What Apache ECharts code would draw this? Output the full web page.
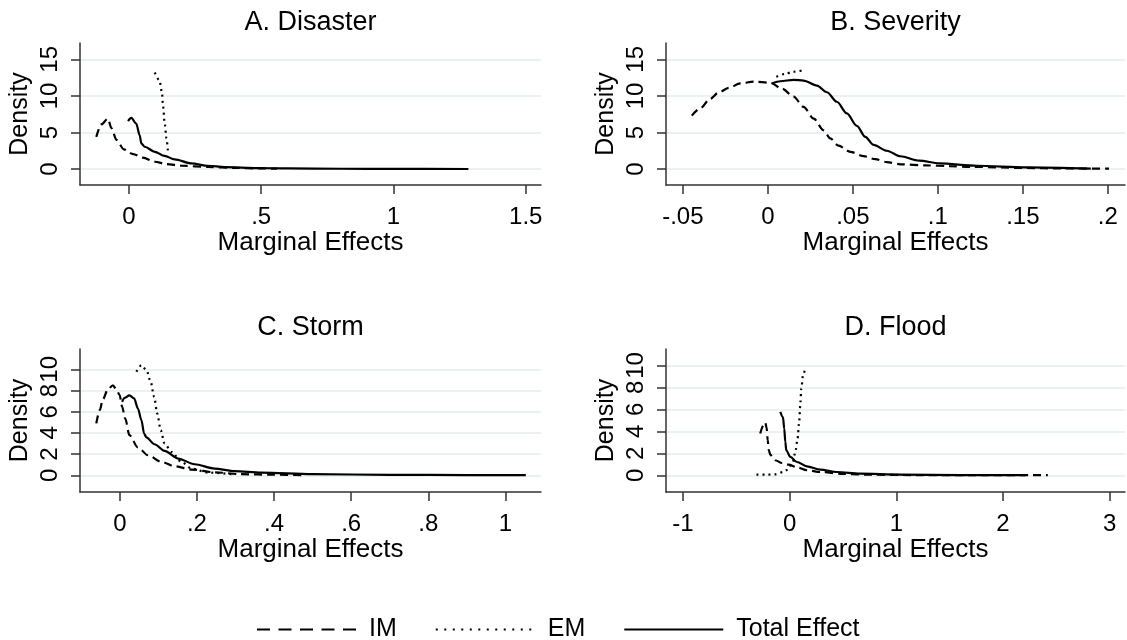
<!DOCTYPE html>
<html>
<head>
<meta charset="utf-8">
<script src="https://cdn.jsdelivr.net/npm/echarts@6/dist/echarts.min.js"></script>
<style>
  html, body { margin: 0; padding: 0; background: #fff; }
  #chart { width: 1127px; height: 640px; }
</style>
</head>
<body>
<div id="chart"></div>
<script>
// panel titles and legend names
const panelTitles = ['A. Disaster', 'B. Severity', 'C. Storm', 'D. Flood'];
const seriesNames = ['IM', 'EM', 'Total Effect'];

// tick values per panel (labels drawn Stata-style: .5, -.05)
const xTicksA = [0, 0.5, 1, 1.5];
const xTicksB = [-0.05, 0, 0.05, 0.1, 0.15, 0.2];
const xTicksC = [0, 0.2, 0.4, 0.6, 0.8, 1];
const xTicksD = [-1, 0, 1, 2, 3];
const yTicksAB = [0, 5, 10, 15];
const yTicksCD = [0, 2, 4, 6, 8, 10];

// A. Disaster  [marginal effect, density]
const disasterIM = [[-0.123, 4.4], [-0.104, 6.1], [-0.079, 6.9], [-0.066, 5.6], [-0.047, 4.0], [-0.019, 2.7],
  [0.016, 2.05], [0.053, 1.55], [0.098, 1.0], [0.142, 0.68], [0.199, 0.45], [0.3, 0.28], [0.4, 0.15], [0.5, 0.08], [0.56, 0.05]];
const disasterEM = [[0.098, 13.2], [0.116, 12.1], [0.125, 10.5], [0.129, 8.7], [0.135, 6.45], [0.142, 4.2], [0.148, 2.3]];
const disasterTotal = [[-0.003, 6.55], [0.009, 7.0], [0.028, 6.2], [0.041, 4.6], [0.047, 3.5], [0.06, 3.05], [0.098, 2.36],
  [0.135, 1.8], [0.173, 1.32], [0.236, 0.78], [0.299, 0.45], [0.362, 0.27], [0.488, 0.14], [0.6, 0.08], [0.8, 0.04], [1.0, 0.02], [1.283, 0.01]];

// B. Severity
const severityIM = [[-0.0447, 7.3], [-0.0398, 8.3], [-0.0339, 9.6], [-0.029, 10.45], [-0.023, 11.1], [-0.0162, 11.7],
  [-0.0084, 11.95], [0.0014, 11.8], [0.0083, 11.0], [0.0152, 9.9], [0.021, 8.5], [0.027, 6.9], [0.0328, 5.3], [0.0367, 4.2],
  [0.0416, 3.2], [0.0485, 2.36], [0.0564, 1.77], [0.0632, 1.35], [0.07, 0.95], [0.078, 0.65], [0.093, 0.5], [0.107, 0.4],
  [0.12, 0.3], [0.15, 0.15], [0.175, 0.08], [0.2007, 0.05]];
const severityEM = [[0.005, 12.6], [0.01, 13.0], [0.015, 13.3], [0.022, 13.55]];
const severityTotal = [[0.0024, 11.7], [0.0073, 12.0], [0.0152, 12.2], [0.021, 12.1], [0.0289, 11.4], [0.0348, 10.5],
  [0.0406, 9.2], [0.0465, 7.6], [0.0524, 5.9], [0.0573, 4.4], [0.0622, 3.3], [0.07, 2.5], [0.078, 1.75], [0.089, 1.15],
  [0.101, 0.77], [0.123, 0.45], [0.152, 0.23], [0.19, 0.06]];

// C. Storm
const stormIM = [[-0.061, 4.9], [-0.052, 6.15], [-0.044, 7.16], [-0.031, 8.1], [-0.018, 8.5], [-0.009, 8.1], [-0.0005, 7.57],
  [0.006, 6.46], [0.014, 5.36], [0.025, 3.78], [0.047, 2.62], [0.073, 1.89], [0.108, 1.26], [0.142, 0.85], [0.186, 0.54],
  [0.246, 0.28], [0.315, 0.1], [0.4, 0.05], [0.475, 0.02]];
const stormEM = [[0.043, 9.77], [0.056, 10.4], [0.069, 9.93], [0.08, 8.83], [0.089, 7.4], [0.097, 5.83], [0.106, 4.26],
  [0.116, 3.0], [0.134, 2.2], [0.16, 1.26], [0.186, 0.63], [0.23, 0.25], [0.3, 0.08]];
const stormTotal = [[0.006, 6.93], [0.0125, 7.3], [0.025, 7.54], [0.037, 7.26], [0.047, 6.3], [0.056, 5.2], [0.063, 3.94],
  [0.069, 3.57], [0.09, 2.93], [0.116, 2.3], [0.151, 1.58], [0.194, 1.04], [0.246, 0.63], [0.298, 0.4], [0.367, 0.25],
  [0.5, 0.1], [0.7, 0.04], [0.9, 0.02], [1.053, 0.01]];

// D. Flood
const floodIM = [[-0.275, 3.8], [-0.245, 4.55], [-0.228, 4.8], [-0.215, 4.3], [-0.205, 3.2], [-0.195, 2.3], [-0.18, 1.85],
  [-0.134, 1.37], [-0.071, 1.12], [-0.009, 0.97], [0.069, 0.73], [0.163, 0.46], [0.288, 0.3], [0.5, 0.12], [0.8, 0.05],
  [1.2, 0.02], [1.8, 0.01], [2.42, 0.01]];
const floodEM = [[-0.31, 0.06], [-0.21, 0.06], [-0.134, 0.09], [-0.056, 0.3], [-0.02, 0.5], [0.03, 1.2], [0.054, 2.1],
  [0.075, 3.35], [0.09, 4.86], [0.1, 6.4], [0.11, 7.9], [0.126, 9.1], [0.15, 9.9]];
const floodTotal = [[-0.087, 5.77], [-0.062, 5.3], [-0.05, 4.25], [-0.04, 3.04], [-0.031, 2.28], [0.007, 1.67], [0.069, 1.21],
  [0.163, 0.82], [0.288, 0.52], [0.444, 0.3], [0.66, 0.15], [1.04, 0.06], [1.6, 0.02], [2.21, 0.01]];

const FONT = 'Liberation Sans';
const AXIS_COLOR = '#333';
const GRID_COLOR = '#e3ecef';

const panels = [
  { grid: { left: 80, top: 43, width: 461, height: 142 }, x: [-0.1846, 1.5575], y: [-2.18, 17.23], xt: xTicksA, yt: yTicksAB,
    data: [disasterIM, disasterEM, disasterTotal] },
  { grid: { left: 666, top: 43, width: 459, height: 142 }, x: [-0.0599, 0.2101], y: [-2.18, 17.23], xt: xTicksB, yt: yTicksAB,
    data: [severityIM, severityEM, severityTotal] },
  { grid: { left: 80, top: 349, width: 461, height: 143 }, x: [-0.1033, 1.0924], y: [-1.58, 11.92], xt: xTicksC, yt: yTicksCD,
    data: [stormIM, stormEM, stormTotal] },
  { grid: { left: 666, top: 349, width: 459, height: 143 }, x: [-1.158, 3.143], y: [-1.52, 11.49], xt: xTicksD, yt: yTicksCD,
    data: [floodIM, floodEM, floodTotal] }
];

// Stata drops the leading zero: 0.5 -> .5, -0.05 -> -.05
const stataLabel = v => String(+v.toFixed(4)).replace(/^(-?)0\./, '$1.');

const lineTypes = [[8, 5], [2, 4], 'solid'];

const grids = panels.map(p => p.grid);

const xAxes = panels.map((p, i) => ({
  type: 'value', gridIndex: i, min: p.x[0], max: p.x[1],
  axisLine: { show: true, onZero: false, lineStyle: { color: AXIS_COLOR, width: 1.5 } },
  axisTick: { show: true, length: 9, customValues: p.xt, lineStyle: { color: AXIS_COLOR, width: 1.5 } },
  axisLabel: { customValues: p.xt, formatter: stataLabel, fontSize: 24, color: '#000', margin: 20, fontFamily: FONT },
  splitLine: { show: false },
  name: 'Marginal Effects', nameLocation: 'middle', nameGap: 41,
  nameTextStyle: { fontSize: 26, color: '#000', fontFamily: FONT }
}));

const yAxes = panels.map((p, i) => ({
  type: 'value', gridIndex: i, min: p.y[0], max: p.y[1],
  axisLine: { show: true, onZero: false, lineStyle: { color: AXIS_COLOR, width: 1.5 } },
  axisTick: { show: true, length: 9, customValues: p.yt, lineStyle: { color: AXIS_COLOR, width: 1.5 } },
  axisLabel: { customValues: p.yt, rotate: 90, fontSize: 24, color: '#000', margin: 18, fontFamily: FONT },
  splitLine: { show: true, lineStyle: { color: GRID_COLOR, width: 1.5 } },
  name: 'Density', nameLocation: 'middle', nameGap: 47,
  nameTextStyle: { fontSize: 25, color: '#000', fontFamily: FONT }
}));

const series = [];
panels.forEach((p, i) => {
  p.data.forEach((d, k) => {
    series.push({
      name: seriesNames[k], type: 'line', xAxisIndex: i, yAxisIndex: i,
      data: d, symbol: 'none', smooth: 0.3, smoothMonotone: 'x',
      lineStyle: { color: '#000', width: 2.2, type: lineTypes[k] },
      itemStyle: { color: '#000' },
      z: 2 + k
    });
  });
});

const titleGraphics = panels.map((p, i) => ({
  type: 'text',
  x: p.grid.left + p.grid.width / 2,
  y: i < 2 ? 23 : 328,
  style: { text: panelTitles[i], fontSize: 27, fontFamily: FONT, fill: '#000', align: 'center', verticalAlign: 'middle' }
}));

const chart = echarts.init(document.getElementById('chart'));
chart.setOption({
  animation: false,
  backgroundColor: '#fff',
  textStyle: { fontFamily: FONT },
  grid: grids,
  xAxis: xAxes,
  yAxis: yAxes,
  graphic: titleGraphics,
  legend: {
    left: 256, top: 617, padding: 0,
    itemWidth: 99, itemHeight: 26, itemGap: 38,
    // hide the marker the line legend icon puts in the middle
    itemStyle: { opacity: 0 },
    textStyle: { fontSize: 25, color: '#000', fontFamily: FONT, padding: [0, 0, 0, 8] },
    data: [
      { name: 'IM', lineStyle: { type: [13, 8.5] } },
      { name: 'EM', lineStyle: { type: [2, 6.5] } },
      { name: 'Total Effect' }
    ]
  },
  series: series
});
</script>
</body>
</html>
